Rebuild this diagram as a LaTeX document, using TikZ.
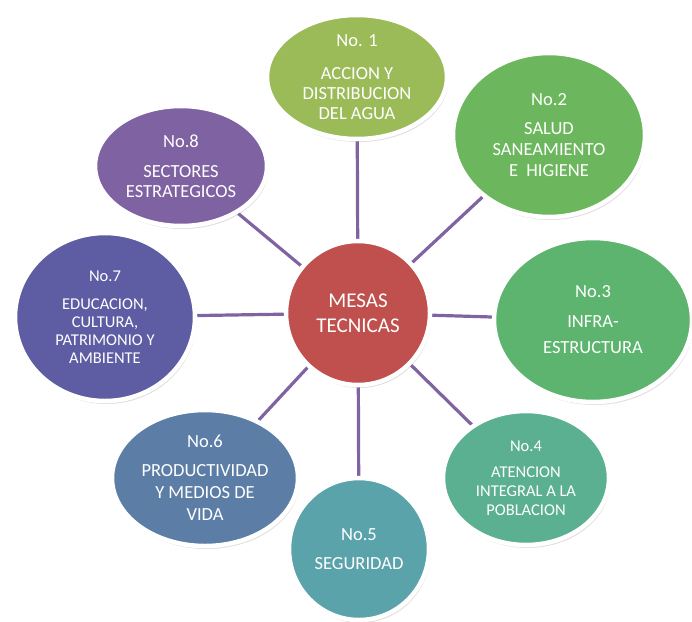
\documentclass[tikz,border=0pt]{standalone}
\usepackage{fontspec}
\setmainfont{Carlito}
\usetikzlibrary{shapes.geometric,shadows,backgrounds}

\definecolor{mesared}{HTML}{C0504D}
\definecolor{mesa1}{HTML}{9BBB59}
\definecolor{mesa2}{HTML}{6CB75E}
\definecolor{mesa3}{HTML}{5DB46E}
\definecolor{mesa4}{HTML}{5BB092}
\definecolor{mesa5}{HTML}{5BA3AA}
\definecolor{mesa6}{HTML}{5C7EA6}
\definecolor{mesa7}{HTML}{5E5DA3}
\definecolor{mesa8}{HTML}{7F62A1}
\definecolor{mesalinea}{HTML}{8064A2}

\tikzset{
  mesa/.style={ellipse, draw=white, line width=4.5pt, inner sep=0pt,
    text=white, align=center, font=\fontsize{18.5}{20}\selectfont,
    drop shadow={shadow xshift=1.5pt, shadow yshift=-3pt, opacity=.25}},
  enlace/.style={draw=mesalinea, line width=3.2pt}
}

\begin{document}
\begin{tikzpicture}[x=1pt,y=-1pt]
\useasboundingbox (0,0) rectangle (692,621);
% center
\node[mesa, circle, fill=mesared, minimum size=144pt,
  font=\fontsize{21}{25}\selectfont] (mesas) at (358,313) {MESAS\\TECNICAS};
% the eight tables
\node[mesa, fill=mesa1, minimum width=180pt, minimum height=124pt] (m1) at (357,77)
  {No. 1\\[13pt]ACCION Y\\DISTRIBUCION\\DEL AGUA};
\node[mesa, fill=mesa2, minimum width=192pt, minimum height=164pt,
  font=\fontsize{18.5}{21}\selectfont] (m2) at (549,135)
  {No.2\\[8pt]SALUD\\SANEAMIENTO\\E\ \ HIGIENE};
\node[mesa, fill=mesa3, minimum width=198pt, minimum height=164pt] (m3) at (593,320)
  {No.3\\[10pt]INFRA-\\[6pt]ESTRUCTURA};
\node[mesa, fill=mesa4, minimum width=166pt, minimum height=134pt,
  font=\fontsize{16.5}{19}\selectfont] (m4) at (526,478)
  {No.4\\[7pt]ATENCION\\INTEGRAL A LA\\POBLACION};
\node[mesa, fill=mesa5, minimum width=140pt, minimum height=142pt] (m5) at (359,549)
  {No.5\\[9pt]SEGURIDAD};
\node[mesa, fill=mesa6, minimum width=186pt, minimum height=136pt,
  font=\fontsize{18.5}{22}\selectfont] (m6) at (205,478)
  {No.6\\[7pt]PRODUCTIVIDAD\\Y MEDIOS DE\\VIDA};
\node[mesa, fill=mesa7, minimum width=180pt, minimum height=168pt,
  font=\fontsize{16.5}{18}\selectfont] (m7) at (105,317)
  {No.7\\[10pt]EDUCACION,\\CULTURA,\\PATRIMONIO Y\\AMBIENTE};
\node[mesa, fill=mesa8, minimum width=172pt, minimum height=120pt] (m8) at (181,166)
  {No.8\\[10pt]SECTORES\\ESTRATEGICOS};
% spokes
\begin{scope}[on background layer]
\foreach \i in {1,...,8}
  \draw[enlace] (mesas) -- (m\i);
\end{scope}
\end{tikzpicture}
\end{document}
